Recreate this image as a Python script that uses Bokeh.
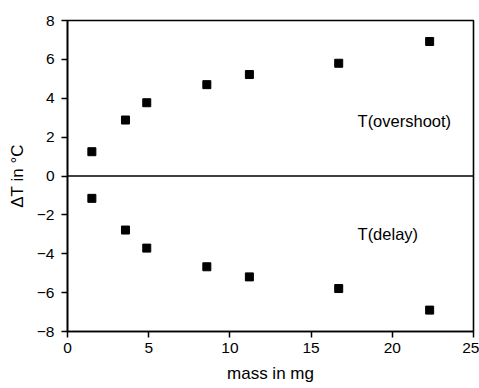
from bokeh.plotting import figure
from bokeh.models import Range1d, Span, Label, FixedTicker, ColumnDataSource
from bokeh.embed import file_html
from bokeh.resources import INLINE

# data
mass_mg = [1.5, 3.57, 4.88, 8.58, 11.2, 16.7, 22.3]
t_overshoot = [1.25, 2.88, 3.77, 4.70, 5.22, 5.80, 6.92]
t_delay = [-1.15, -2.78, -3.71, -4.67, -5.19, -5.79, -6.90]
x_ticks = [0, 5, 10, 15, 20, 25]
y_ticks = [-8, -6, -4, -2, 0, 2, 4, 6, 8]

FONT = "Liberation Sans"

p = figure(width=479, height=388, output_backend="svg", toolbar_location=None,
           x_range=Range1d(0, 25), y_range=Range1d(-8, 8),
           min_border_left=67, min_border_right=6, min_border_top=20, min_border_bottom=57)
p.xgrid.visible = False
p.ygrid.visible = False
p.outline_line_color = "black"
p.outline_line_width = 1.6
p.background_fill_color = "white"
p.border_fill_color = "white"

src_o = ColumnDataSource(dict(x=mass_mg, y=t_overshoot))
src_d = ColumnDataSource(dict(x=mass_mg, y=t_delay))
p.scatter("x", "y", source=src_o, marker="square", size=8, fill_color="black", line_color="black")
p.scatter("x", "y", source=src_d, marker="square", size=8, fill_color="black", line_color="black")

p.add_layout(Span(location=0, dimension="width", line_color="black", line_width=1.6))

p.add_layout(Label(x=17.86, y=2.85, text="T(overshoot)", text_font=FONT, text_font_size="16.5px",
                   text_baseline="middle", text_color="black"))
p.add_layout(Label(x=17.86, y=-2.97, text="T(delay)", text_font=FONT, text_font_size="16.5px",
                   text_baseline="middle", text_color="black"))

for ax in (p.xaxis[0], p.yaxis[0]):
    ax.axis_line_width = 1.6
    ax.axis_line_color = "black"
    ax.major_tick_line_color = "black"
    ax.major_tick_line_width = 1.5
    ax.major_tick_out = 6
    ax.major_tick_in = 0
    ax.minor_tick_line_color = None
    ax.major_label_text_font = FONT
    ax.major_label_text_font_size = "15.5px"
    ax.major_label_text_color = "black"
    ax.axis_label_text_font = FONT
    ax.axis_label_text_font_size = "17px"
    ax.axis_label_text_font_style = "normal"
    ax.axis_label_text_color = "black"

p.xaxis.ticker = FixedTicker(ticks=x_ticks)
p.yaxis.ticker = FixedTicker(ticks=y_ticks)
p.yaxis.major_label_overrides = {t: (str(t).replace("-", "\u2212")) for t in y_ticks}
p.xaxis.axis_label = "mass in mg"
p.yaxis.axis_label = "\u0394T in \u00b0C"
p.xaxis.major_label_standoff = 5
p.yaxis.major_label_standoff = 7
p.xaxis.axis_label_standoff = 8
p.yaxis.axis_label_standoff = 7

open("out.html", "w").write(file_html(p, INLINE))
